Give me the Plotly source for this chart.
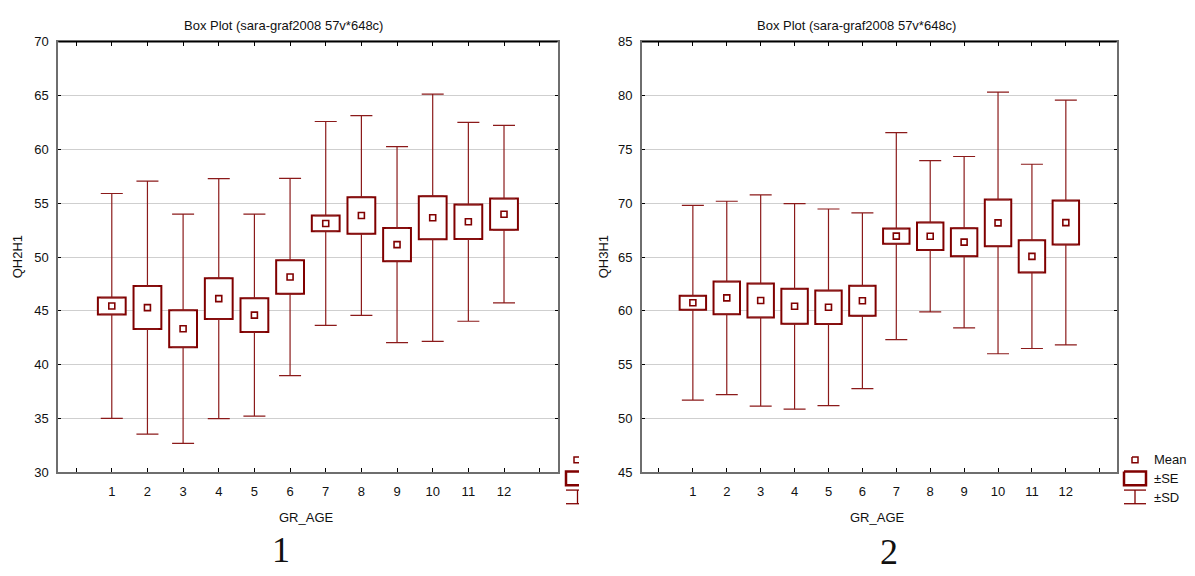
import plotly.graph_objects as go

# Group categories on the x axis
categories = list(range(1, 13))
tick_labels = [str(c) for c in categories]

# QH2H1 by age group: mean, standard error, standard deviation
qh2_mean = [45.45, 45.30, 43.33, 46.13, 44.60, 48.14, 53.12, 53.86, 51.15, 53.65, 53.27, 53.98]
qh2_se = [0.78, 2.00, 1.72, 1.90, 1.57, 1.56, 0.73, 1.70, 1.54, 2.00, 1.60, 1.45]
qh2_sd = [10.45, 11.75, 10.65, 11.15, 9.38, 9.17, 9.47, 9.28, 9.10, 11.48, 9.24, 8.25]

# QH3H1 by age group: mean, standard error, standard deviation
qh3_mean = [60.75, 61.20, 60.96, 60.42, 60.33, 60.94, 66.94, 66.93, 66.38, 68.17, 65.06, 68.20]
qh3_se = [0.65, 1.52, 1.57, 1.63, 1.55, 1.40, 0.70, 1.28, 1.30, 2.17, 1.49, 2.04]
qh3_sd = [9.05, 8.98, 9.82, 9.55, 9.13, 8.16, 9.62, 7.03, 7.96, 12.16, 8.56, 11.37]

W, H = 1195, 576
RED = "#800000"
WHISKER = "#8b1a1a"
FONT = "Liberation Sans, Arial, sans-serif"
TITLE = "Box Plot (sara-graf2008 57v*648c)"


def px(x):
    return x / W


def py(y):
    return 1 - y / H


fig = go.Figure()


def add_panel(mean, se, sd, xa, ya):
    lo = [m - s for m, s in zip(mean, se)]
    hi = [m + s for m, s in zip(mean, se)]
    ext = [d - s for d, s in zip(sd, se)]
    zeros = [0] * len(mean)
    # ±SE boxes
    fig.add_trace(go.Bar(
        x=categories, y=[2 * s for s in se], base=lo, width=0.78,
        marker=dict(color="white", line=dict(color=RED, width=2)),
        xaxis=xa, yaxis=ya, showlegend=False, hoverinfo="skip",
    ))
    # ±SD whiskers, running outward from the box edges
    fig.add_trace(go.Scatter(
        x=categories + categories, y=hi + lo, mode="markers",
        marker=dict(size=1, opacity=0),
        error_y=dict(type="data", symmetric=False,
                     array=ext + zeros, arrayminus=zeros + ext,
                     color=WHISKER, thickness=1.2, width=11),
        xaxis=xa, yaxis=ya, showlegend=False, hoverinfo="skip",
    ))
    # Means
    fig.add_trace(go.Scatter(
        x=categories, y=mean, mode="markers",
        marker=dict(symbol="square-open", size=6, color=RED, line=dict(width=1.6, color=RED)),
        xaxis=xa, yaxis=ya, showlegend=False,
    ))


add_panel(qh2_mean, qh2_se, qh2_sd, "x", "y")
add_panel(qh3_mean, qh3_se, qh3_sd, "x2", "y2")

xcommon = dict(
    range=[-0.5, 13.5], tickmode="array", tickvals=list(range(0, 14)),
    ticktext=[""] + tick_labels + [""], ticks="inside", ticklen=4, tickcolor="#000",
    showline=True, linecolor="#6e6e6e", linewidth=2, mirror="ticks",
    showgrid=False, zeroline=False, ticklabelstandoff=6,
    tickfont=dict(family=FONT, size=13, color="#111"),
)
ycommon = dict(
    dtick=5, ticks="inside", ticklen=3, tickcolor="#000",
    showline=True, linecolor="#6e6e6e", linewidth=2, mirror="ticks",
    showgrid=True, gridcolor="#cfcfcf", gridwidth=1, zeroline=False,
    ticklabelstandoff=5, tickfont=dict(family=FONT, size=13, color="#111"),
)

top, bottom = py(35.7), py(477.7)
fig.update_layout(
    width=W, height=H, margin=dict(l=0, r=0, t=0, b=0),
    paper_bgcolor="white", plot_bgcolor="white", barmode="overlay",
    xaxis=dict(domain=[px(58.3), px(557.5)], anchor="y", **xcommon),
    yaxis=dict(domain=[bottom, top], range=[30, 70], anchor="x", **ycommon),
    xaxis2=dict(domain=[px(642), px(1116.7)], anchor="y2", **xcommon),
    yaxis2=dict(domain=[bottom, top], range=[45, 85], anchor="x2", **ycommon),
)

shapes = []
annotations = []

# Black top frame line of each panel
for xa in ("x", "x2"):
    shapes.append(dict(type="line", xref=f"{xa} domain", yref="paper",
                       x0=0, x1=1, y0=top, y1=top, line=dict(color="#000", width=1.5)))


def text(x, y, s, size=13, angle=0, xanchor="center", family=FONT):
    annotations.append(dict(
        x=px(x), y=py(y), xref="paper", yref="paper", text=s, showarrow=False,
        xanchor=xanchor, yanchor="middle", textangle=angle,
        font=dict(family=family, size=size, color="#111"),
    ))


# Titles, axis titles and panel numbers
text(283, 19, TITLE)
text(856, 19, TITLE)
text(306, 524, "GR_AGE")
text(877, 524, "GR_AGE")
text(17, 257, "QH2H1", angle=-90)
text(603, 257, "QH3H1", angle=-90)
text(281, 558, "1", size=36, family="Liberation Serif, Times New Roman, serif")
text(889, 560, "2", size=36, family="Liberation Serif, Times New Roman, serif")


def path(points, width):
    d = "M " + " L ".join(f"{px(x)},{py(y)}" for x, y in points)
    shapes.append(dict(type="path", xref="paper", yref="paper", path=d,
                       line=dict(color=RED, width=width)))


# Legend key of the right panel
path([(1132, 462), (1138, 462), (1138, 468), (1132, 468), (1132, 462)], 1.5)
path([(1124, 477), (1146, 477), (1146, 491), (1124, 491), (1124, 477)], 2.5)
path([(1124, 496), (1146, 496)], 1.3)
path([(1135, 496), (1135, 510)], 1.3)
path([(1124, 510), (1146, 510)], 1.3)
text(1152, 465, "Mean", xanchor="left")
text(1152, 484, "±SE", xanchor="left")
text(1152, 504, "±SD", xanchor="left")

# Cut-off legend key at the edge of the left panel
path([(579, 462), (574, 462), (574, 468), (579, 468)], 1.5)
path([(579, 477), (566, 477), (566, 491), (579, 491)], 2.5)
path([(566, 496), (579, 496)], 1.3)
path([(577.5, 496), (577.5, 510)], 1.3)
path([(566, 510), (579, 510)], 1.3)

fig.update_layout(shapes=shapes, annotations=annotations)

fig.write_html("out.html")
